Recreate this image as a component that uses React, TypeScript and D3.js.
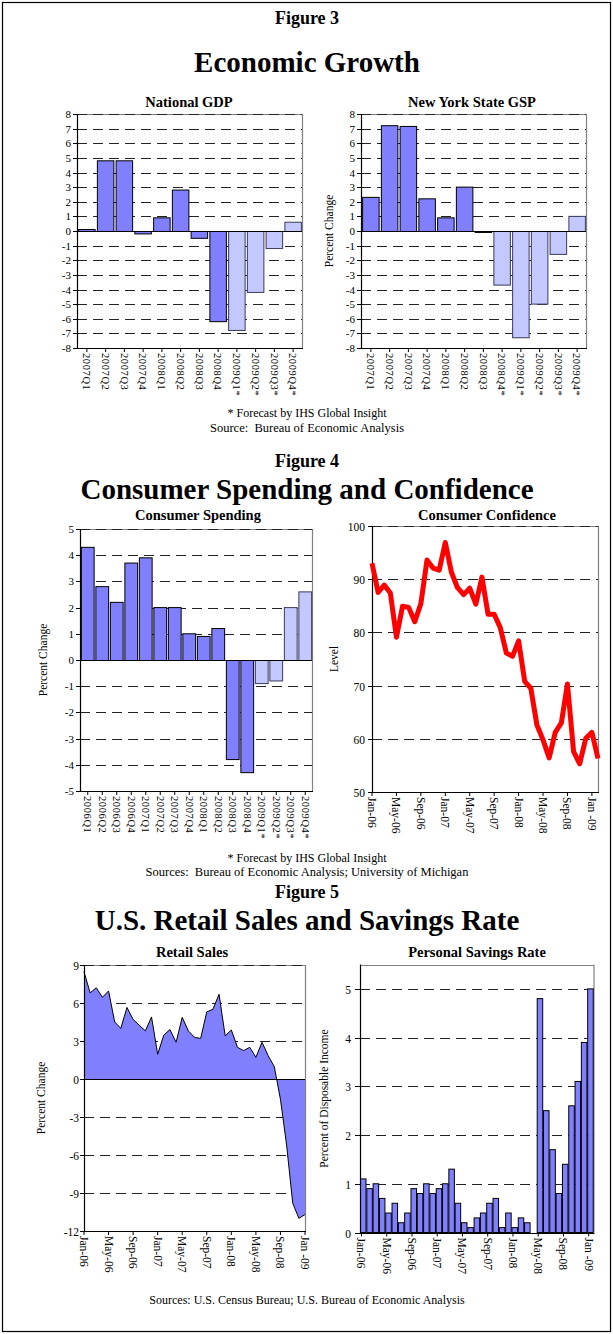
import React from 'react';
import * as d3 from 'd3';

// ---------- DATA ----------
const gdpCats = ['2007Q1','2007Q2','2007Q3','2007Q4','2008Q1','2008Q2','2008Q3','2008Q4','2009Q1*','2009Q2*','2009Q3*','2009Q4*'];
const gdpValues = [0.1, 4.8, 4.8, -0.2, 0.9, 2.8, -0.5, -6.2, -6.8, -4.2, -1.2, 0.6];
const gdpForecast = [false, false, false, false, false, false, false, false, true, true, true, true];

const nyCats = ['2007Q1','2007Q2','2007Q3','2007Q4','2008Q1','2008Q2','2008Q3','2008Q4*','2009Q1*','2009Q2*','2009Q3*','2009Q4*'];
const nyValues = [2.3, 7.2, 7.15, 2.2, 0.9, 3.0, -0.1, -3.7, -7.3, -5.0, -1.6, 1.0];
const nyForecast = [false, false, false, false, false, false, false, true, true, true, true, true];

const spendCats = ['2006Q1','2006Q2','2006Q3','2006Q4','2007Q1','2007Q2','2007Q3','2007Q4','2008Q1','2008Q2','2008Q3','2008Q4','2009Q1*','2009Q2*','2009Q3*','2009Q4*'];
const spendValues = [4.3, 2.8, 2.2, 3.7, 3.9, 2.0, 2.0, 1.0, 0.9, 1.2, -3.8, -4.3, -0.9, -0.8, 2.0, 2.6];
const spendForecast = [false, false, false, false, false, false, false, false, false, false, false, false, true, true, true, true];

const monthTickLabels = ['Jan-06','May-06','Sep-06','Jan-07','May-07','Sep-07','Jan-08','May-08','Sep-08','Jan -09'];

const confidenceValues = [93.0, 87.5, 88.9, 87.4, 79.1, 84.9, 84.7, 82.0, 85.4, 93.6, 92.1, 91.7,
  96.9, 91.3, 88.4, 87.1, 88.3, 85.3, 90.4, 83.4, 83.4, 80.9, 76.1, 75.5,
  78.4, 70.8, 69.5, 62.6, 59.8, 56.4, 61.2, 63.0, 70.3, 57.6, 55.3, 60.1,
  61.2, 56.3];

const retailValues = [8.47, 6.8, 7.2, 6.45, 6.95, 4.5, 4.0, 5.65, 4.7, 4.24, 3.8, 4.9,
  1.95, 3.47, 3.9, 2.9, 4.87, 3.79, 3.29, 3.2, 5.3, 5.5, 6.69, 3.4,
  3.87, 2.5, 2.24, 2.5, 1.71, 2.9, 1.84, 0.97, -1.6, -5.2, -9.8, -11.0,
  -10.7];

const savingsValues = [1.1, 0.9, 1.0, 0.7, 0.4, 0.6, 0.2, 0.4, 0.9, 0.8, 1.0, 0.8,
  0.9, 1.0, 1.3, 0.6, 0.2, 0.1, 0.3, 0.4, 0.6, 0.7, 0.1, 0.4,
  0.1, 0.3, 0.2, 0.0, 4.8, 2.5, 1.7, 0.8, 1.4, 2.6, 3.1, 3.9,
  5.0];

const gspTicks = [8, 7, 6, 5, 4, 3, 2, 1, 0, -1, -2, -3, -4, -5, -6, -7, -8];
const spendTicks = [5, 4, 3, 2, 1, 0, -1, -2, -3, -4, -5];
const confTicks = [100, 90, 80, 70, 60, 50];
const retailTicks = [9, 6, 3, 0, -3, -6, -9, -12];
const savingsTicks = [5, 4, 3, 2, 1, 0];

// ---------- STYLE ----------
const FONT = '"Liberation Serif", "Times New Roman", serif';
const DARK = '#8080ff';
const LIGHT = '#c3c9ff';
const GRID = '#222';
const FRAME = '#808080';
const SUBTITLE = 14.5;

type Frame = { x0: number; x1: number; y0: number; y1: number };

function Grid({ f, y, ticks, zero, tickLen, labelGap, fontSize }: any) {
  return (
    <g>
      {ticks.map((t: number) => {
        const yy = Math.round(y(t)) + 0.5;
        const isBottom = Math.abs(yy - (Math.round(f.y1) + 0.5)) < 1;
        return (
          <g key={t}>
            {t !== zero && !isBottom && (
              <line x1={f.x0} x2={f.x1} y1={yy} y2={yy} stroke={GRID} strokeWidth={1} strokeDasharray="10,6" />
            )}
            <line x1={f.x0 - tickLen} x2={f.x0} y1={yy} y2={yy} stroke="#000" strokeWidth={1} />
            <text x={f.x0 - labelGap} y={yy} dy="0.35em" textAnchor="end" fontFamily={FONT} fontSize={fontSize} fill="#000">{t}</text>
          </g>
        );
      })}
    </g>
  );
}

function FrameBox({ f }: { f: Frame }) {
  return (
    <g>
      <line x1={f.x1 + 0.5} x2={f.x1 + 0.5} y1={f.y0} y2={f.y1} stroke={FRAME} strokeWidth={1.2} />
      <line x1={f.x0} x2={f.x1} y1={Math.round(f.y0) + 0.5} y2={Math.round(f.y0) + 0.5} stroke={FRAME} strokeWidth={1.2} />
    </g>
  );
}

function Axes({ f }: { f: Frame }) {
  return (
    <g>
      <line x1={f.x0 + 0.5} x2={f.x0 + 0.5} y1={f.y0} y2={f.y1 + 0.5} stroke="#000" strokeWidth={1.2} />
      <line x1={f.x0} x2={f.x1 + 1} y1={Math.round(f.y1) + 0.5} y2={Math.round(f.y1) + 0.5} stroke="#000" strokeWidth={1.2} />
    </g>
  );
}

function BarChart({ f, cats, values, forecast, domain, ticks, title, titleX, titleY, ylabel, ylabelX, padding, labelFont }: any) {
  const x = d3.scaleBand<string>().domain(cats).range([f.x0, f.x1]).paddingInner(padding).paddingOuter(padding / 2);
  const y = d3.scaleLinear().domain(domain).range([f.y1, f.y0]);
  const y0 = Math.round(y(0)) + 0.5;
  return (
    <g>
      <text x={titleX} y={titleY} textAnchor="middle" fontFamily={FONT} fontWeight="bold" fontSize={SUBTITLE}>{title}</text>
      {ylabel && (
        <text transform={`translate(${ylabelX},${(f.y0 + f.y1) / 2}) rotate(-90)`} textAnchor="middle" fontFamily={FONT} fontSize={11.5}>{ylabel}</text>
      )}
      <FrameBox f={f} />
      <Grid f={f} y={y} ticks={ticks} zero={0} tickLen={4} labelGap={6} fontSize={11} />
      {values.map((v: number, i: number) => {
        const yv = y(v);
        const top = Math.min(yv, y0);
        const h = Math.abs(yv - y0);
        return (
          <rect key={i} x={(x(cats[i]) as number) + 0.5} y={top} width={x.bandwidth()} height={h}
            fill={forecast[i] ? LIGHT : DARK} stroke={forecast[i] ? '#3a3a5a' : '#000'} strokeWidth={1} />
        );
      })}
      <line x1={f.x0} x2={f.x1} y1={y0} y2={y0} stroke="#000" strokeWidth={1.2} />
      <Axes f={f} />
      {cats.map((c: string) => {
        const cx = (x(c) as number) + x.bandwidth() / 2 + 0.5;
        return (
          <g key={c}>
            <line x1={cx} x2={cx} y1={f.y1} y2={f.y1 + 4} stroke="#000" strokeWidth={1} />
            <text transform={`translate(${cx},${f.y1 + 5}) rotate(90)`} dy="0.35em" fontFamily={FONT} fontSize={labelFont} letterSpacing={0.6}>{c}</text>
          </g>
        );
      })}
    </g>
  );
}

function MonthTicks({ f, xAt, labels, step }: any) {
  return (
    <g>
      {labels.map((l: string, k: number) => {
        const cx = xAt(k * step);
        return (
          <g key={l}>
            <line x1={cx} x2={cx} y1={f.y1} y2={f.y1 + 4} stroke="#000" strokeWidth={1} />
            <text transform={`translate(${cx},${f.y1 + 5}) rotate(90)`} dy="0.35em" fontFamily={FONT} fontSize={11.5}>{l}</text>
          </g>
        );
      })}
    </g>
  );
}

function ConfidenceChart() {
  const f: Frame = { x0: 372, x1: 598, y0: 526, y1: 792 };
  const x = d3.scaleLinear().domain([0, confidenceValues.length - 1]).range([f.x0, f.x1]);
  const y = d3.scaleLinear().domain([50, 100]).range([f.y1, f.y0]);
  const line = d3.line<number>().x((_, i) => x(i)).y((d) => y(d));
  return (
    <g>
      <text x={487} y={520} textAnchor="middle" fontFamily={FONT} fontWeight="bold" fontSize={SUBTITLE}>Consumer Confidence</text>
      <text transform={`translate(338,${(f.y0 + f.y1) / 2}) rotate(-90)`} textAnchor="middle" fontFamily={FONT} fontSize={11.5}>Level</text>
      <FrameBox f={f} />
      <Grid f={f} y={y} ticks={confTicks} zero={null} tickLen={4} labelGap={7} fontSize={11.5} />
      <Axes f={f} />
      <path d={line(confidenceValues) || ''} fill="none" stroke="#ff0000" strokeWidth={5} strokeLinejoin="round" />
      <MonthTicks f={f} xAt={x} labels={monthTickLabels} step={4} />
    </g>
  );
}

function RetailChart() {
  const f: Frame = { x0: 84, x1: 305, y0: 965, y1: 1231 };
  const x = d3.scaleLinear().domain([0, retailValues.length - 1]).range([f.x0, f.x1]);
  const y = d3.scaleLinear().domain([-12, 9]).range([f.y1, f.y0]);
  const area = d3.area<number>().x((_, i) => x(i)).y0(y(0)).y1((d) => y(d));
  const line = d3.line<number>().x((_, i) => x(i)).y((d) => y(d));
  const y0 = Math.round(y(0)) + 0.5;
  return (
    <g>
      <text x={192} y={957} textAnchor="middle" fontFamily={FONT} fontWeight="bold" fontSize={SUBTITLE}>Retail Sales</text>
      <text transform={`translate(45,${(f.y0 + f.y1) / 2}) rotate(-90)`} textAnchor="middle" fontFamily={FONT} fontSize={11.5}>Percent Change</text>
      <FrameBox f={f} />
      <Grid f={f} y={y} ticks={retailTicks} zero={0} tickLen={4} labelGap={5} fontSize={11.5} />
      <path d={area(retailValues) || ''} fill={DARK} stroke="none" />
      <path d={line(retailValues) || ''} fill="none" stroke="#000" strokeWidth={1} />
      <line x1={f.x0} x2={f.x1} y1={y0} y2={y0} stroke="#000" strokeWidth={1.2} />
      <Axes f={f} />
      <MonthTicks f={f} xAt={x} labels={monthTickLabels} step={4} />
    </g>
  );
}

function SavingsChart() {
  const f: Frame = { x0: 360, x1: 593.5, y0: 964.5, y1: 1232.5 };
  const idx = savingsValues.map((_, i) => i);
  const x = d3.scaleBand<number>().domain(idx).range([f.x0, f.x1]).padding(0);
  const y = d3.scaleLinear().domain([0, 5.5]).range([f.y1, f.y0]);
  return (
    <g>
      <text x={477} y={957} textAnchor="middle" fontFamily={FONT} fontWeight="bold" fontSize={SUBTITLE}>Personal Savings Rate</text>
      <text transform={`translate(328,${(f.y0 + f.y1) / 2}) rotate(-90)`} textAnchor="middle" fontFamily={FONT} fontSize={11.5}>Percent of Disposable Income</text>
      <FrameBox f={f} />
      <Grid f={f} y={y} ticks={savingsTicks} zero={null} tickLen={5} labelGap={9} fontSize={11.5} />
      {savingsValues.map((v, i) => (
        v > 0 ? <rect key={i} x={(x(i) as number) + 0.5} y={y(v)} width={x.bandwidth() - 0.8} height={y(0) - y(v)} fill={DARK} stroke="#000" strokeWidth={1} /> : null
      ))}
      <Axes f={f} />
      <MonthTicks f={f} xAt={(i: number) => (x(i) as number) + 1.5} labels={monthTickLabels} step={4} />
    </g>
  );
}

function Centered({ y, size, bold, children }: any) {
  return <text x={307} y={y} textAnchor="middle" fontFamily={FONT} fontSize={size} fontWeight={bold ? 'bold' : 'normal'} style={{ whiteSpace: 'pre' }}>{children}</text>;
}

export default function App() {
  return (
    <svg width={613} height={1334} style={{ position: 'absolute', left: 0, top: 0, background: '#fff' }}>
      <rect x={2.5} y={2.5} width={608} height={1329} fill="#fff" stroke="#000" strokeWidth={1.2} />

      <Centered y={24} size={18} bold>Figure 3</Centered>
      <Centered y={72} size={29} bold>Economic Growth</Centered>
      <BarChart f={{ x0: 77, x1: 302, y0: 114, y1: 348 }} cats={gdpCats} values={gdpValues} forecast={gdpForecast}
        domain={[-8, 8]} ticks={gspTicks} title="National GDP" titleX={189} titleY={107} padding={0.12} labelFont={10.5} />
      <BarChart f={{ x0: 361, x1: 586, y0: 114, y1: 348 }} cats={nyCats} values={nyValues} forecast={nyForecast}
        domain={[-8, 8]} ticks={gspTicks} title="New York State GSP" titleX={472} titleY={107} ylabel="Percent Change" ylabelX={333} padding={0.12} labelFont={10.5} />
      <Centered y={417} size={12}>* Forecast by IHS Global Insight</Centered>
      <Centered y={432} size={12.5}>{'Source:  Bureau of Economic Analysis'}</Centered>

      <Centered y={467} size={18} bold>Figure 4</Centered>
      <Centered y={499} size={29} bold>Consumer Spending and Confidence</Centered>
      <BarChart f={{ x0: 80, x1: 312, y0: 529, y1: 791 }} cats={spendCats} values={spendValues} forecast={spendForecast}
        domain={[-5, 5]} ticks={spendTicks} title="Consumer Spending" titleX={198} titleY={520} ylabel="Percent Change" ylabelX={47} padding={0.12} labelFont={10.5} />
      <ConfidenceChart />
      <Centered y={862} size={12}>* Forecast by IHS Global Insight</Centered>
      <Centered y={876} size={12.5}>{'Sources:  Bureau of Economic Analysis; University of Michigan'}</Centered>

      <Centered y={898} size={18} bold>Figure 5</Centered>
      <Centered y={930} size={29} bold>U.S. Retail Sales and Savings Rate</Centered>
      <RetailChart />
      <SavingsChart />
      <Centered y={1304} size={12}>Sources: U.S. Census Bureau; U.S. Bureau of Economic Analysis</Centered>
    </svg>
  );
}
